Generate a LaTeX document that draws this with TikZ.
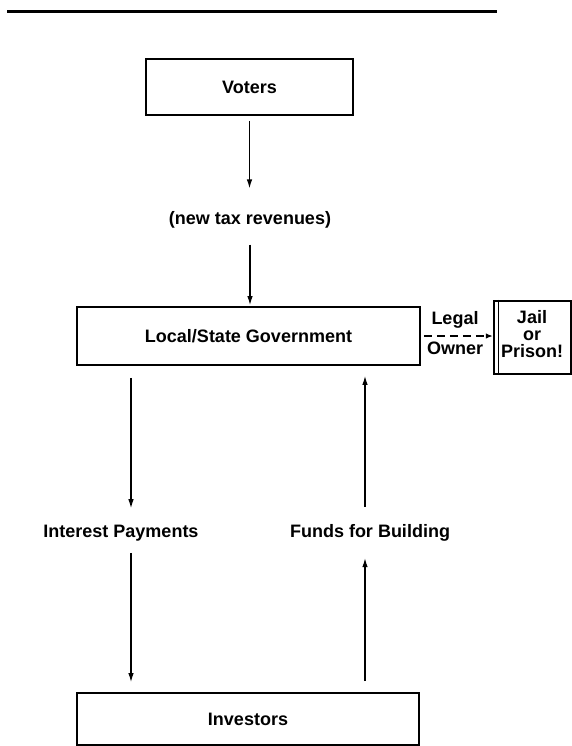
\documentclass[tikz,border=0pt]{standalone}
\usepackage{fontspec}
\setmainfont{Liberation Sans}
\usetikzlibrary{arrows.meta}
\begin{document}
\begin{tikzpicture}[x=1pt,y=-1pt,
  box/.style={draw, line width=1.8pt, inner sep=0pt},
  lbl/.style={inner sep=0pt, font=\fontsize{18}{17}\selectfont\bfseries},
  arr/.style={line width=1.2pt, -{Latex[length=9pt,width=5.5pt]}},
]
\useasboundingbox (0,0) rectangle (572,746);
\draw[line width=3pt] (7,12) -- (497,12);
\node[box, lbl, minimum width=207pt, minimum height=56pt] (voters) at (249.5,87) {Voters};
\node[lbl] (tax) at (250,220) {(new tax revenues)};
\node[box, lbl, minimum width=343pt, minimum height=58pt] (gov) at (248.5,336) {Local/State Government};
\node[lbl] (legal) at (455,320) {Legal};
\node[lbl] (owner) at (455,348) {Owner};
\node[box, line width=2.5pt, minimum width=77pt, minimum height=73pt] (jail) at (532.5,337.5) {};
\draw[line width=1pt] ([xshift=6pt]jail.north west) -- ([xshift=6pt]jail.south west);
\node[lbl, align=center] (jailtxt) at (532,334) {Jail\\or\\Prison!};
\node[lbl] (interest) at (121,533) {Interest Payments};
\node[lbl] (funds) at (370,533) {Funds for Building};
\node[box, lbl, minimum width=342pt, minimum height=52pt] (inv) at (248,719) {Investors};

\draw[arr, shorten <=5pt, shorten >=23pt] (voters.south) -- (voters.south |- tax.north);
\draw[arr, shorten <=16pt, shorten >=1pt] (tax.south) -- (tax.south |- gov.north);
\coordinate (ia) at ([xshift=10pt]interest.north);
\coordinate (ib) at ([xshift=10pt]interest.south);
\coordinate (fa) at ([xshift=-5pt]funds.north);
\coordinate (fb) at ([xshift=-5pt]funds.south);
\draw[arr, shorten <=12pt, shorten >=16.5pt] (gov.south -| ia) -- (ia);
\draw[arr, shorten <=11.5pt, shorten >=10pt] (ib) -- (ib |- inv.north);
\draw[arr, shorten <=17.5pt, shorten >=10pt] (fa) -- (fa |- gov.south);
\draw[arr, shorten <=11pt, shorten >=16.5pt] (fb |- inv.north) -- (fb);
\draw[line width=1.2pt, dash pattern=on 8pt off 5pt, -{Latex[length=7pt,width=5.5pt]}, shorten <=3pt] (gov.east) -- (gov.east -| jail.west);
\end{tikzpicture}
\end{document}
